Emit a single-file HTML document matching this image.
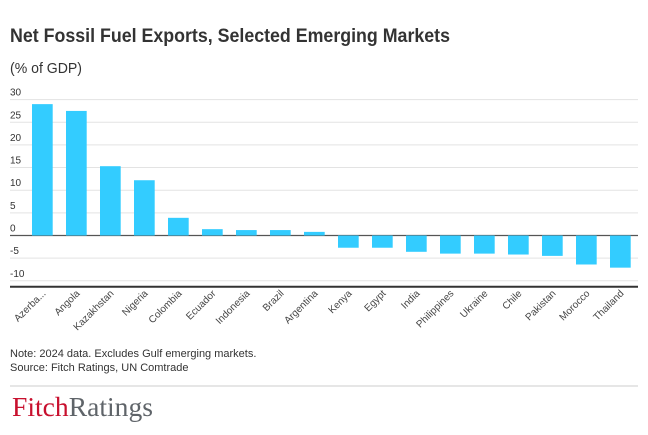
<!DOCTYPE html>
<html><head><meta charset="utf-8"><style>
body{margin:0;background:#fff;}
svg{display:block;font-family:"Liberation Sans",sans-serif;}
</style></head><body>
<svg width="648" height="435" viewBox="0 0 648 435">
<text x="10" y="42" font-size="19" font-weight="bold" fill="#333" textLength="440" lengthAdjust="spacingAndGlyphs">Net Fossil Fuel Exports, Selected Emerging Markets</text>
<text x="10" y="73" font-size="15" fill="#333" textLength="72" lengthAdjust="spacingAndGlyphs">(% of GDP)</text>
<g id="grid"></g><g id="bars"></g><g id="labels"></g>
<line x1="10" x2="638" y1="286.7" y2="286.7" stroke="#333" stroke-width="2"/>
<text x="10" y="357" font-size="11" fill="#333">Note: 2024 data. Excludes Gulf emerging markets.</text>
<text x="10" y="371" font-size="11" fill="#333">Source: Fitch Ratings, UN Comtrade</text>
<line x1="10" x2="638" y1="386" y2="386" stroke="#ccc" stroke-width="1"/>
<text x="12" y="416" font-family="Liberation Serif,serif" font-size="27" textLength="141" lengthAdjust="spacingAndGlyphs"><tspan fill="#c8102e">Fitch</tspan><tspan fill="#5f6469">Ratings</tspan></text>
</svg>
<script>
const categories=["Azerba...","Angola","Kazakhstan","Nigeria","Colombia","Ecuador","Indonesia","Brazil","Argentina","Kenya","Egypt","India","Philippines","Ukraine","Chile","Pakistan","Morocco","Thailand"];
const values=[29.0,27.5,15.3,12.2,3.9,1.4,1.2,1.2,0.8,-2.7,-2.7,-3.6,-4.0,-4.0,-4.2,-4.5,-6.4,-7.1];
const ticks=[30,25,20,15,10,5,0,-5,-10];
const NS="http://www.w3.org/2000/svg";
function y(v){return 235.5-v*4.53;}
function x(i){return 32+i*34;}
const bw=20.7;
function mk(t,a,p){const e=document.createElementNS(NS,t);for(const k in a)e.setAttribute(k,a[k]);p.appendChild(e);return e;}
const g=document.getElementById('grid'),b=document.getElementById('bars'),l=document.getElementById('labels');
ticks.forEach(t=>{
 const ln=mk('line',{x1:10,x2:638,y1:y(t),y2:y(t),stroke:t===0?'#555':'#e3e3e3','stroke-width':t===0?1.2:1},g);
 
 
 const tx=mk('text',{x:10,y:y(t)-4,'font-size':10,fill:'#333'},g);
 tx.textContent=t;
 
 
});
values.forEach((v,i)=>{
 const r=mk('rect',{x:x(i),y:Math.min(y(v),y(0)),width:bw,height:Math.abs(y(v)-y(0)),fill:'#33ccff'},b);
 
 
 const cx=x(i)+bw/2+4,cy=294;
 const t=mk('text',{x:cx,y:cy,'font-size':10,fill:'#444','text-anchor':'end',transform:`rotate(-45 ${cx} ${cy})`},l);
 t.textContent=categories[i];
 
 
});
</script>
</body></html>
